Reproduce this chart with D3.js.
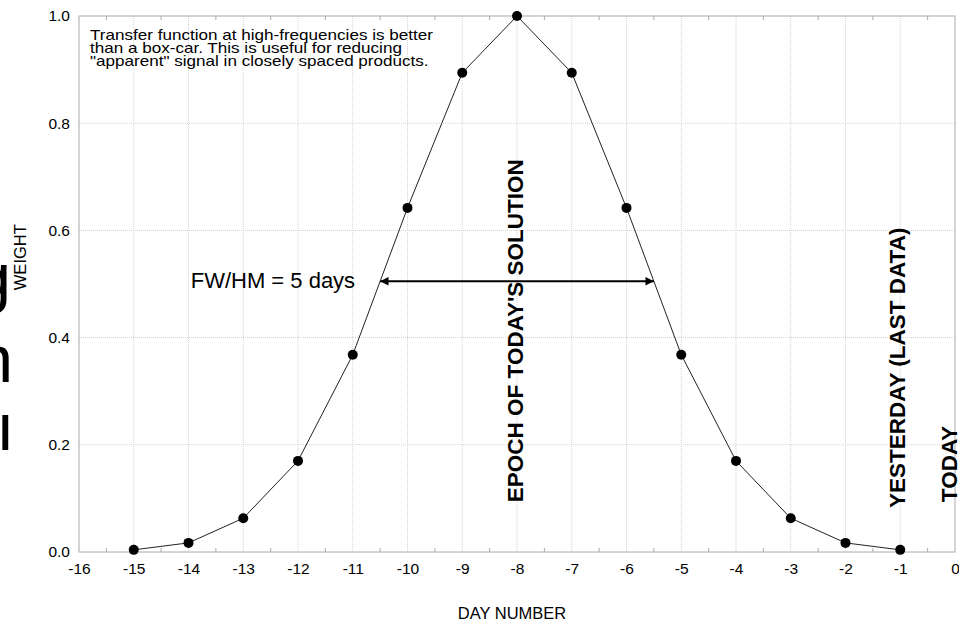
<!DOCTYPE html>
<html>

<head>
  <meta charset="utf-8">
  <script src="https://d3js.org/d3.v7.min.js"></script>
  <style>
    body {
      margin: 0;
      background: #fff;
    }

    text {
      font-family: "Liberation Sans", Arial, Helvetica, sans-serif;
      fill: #000;
    }
  </style>
</head>

<body>
  <svg id="chart"></svg>
</body>

<script>
  // day offsets and the weight given to each day
  const days = [-15, -14, -13, -12, -11, -10, -9, -8, -7, -6, -5, -4, -3, -2, -1]
  const weights = [0.004, 0.017, 0.063, 0.17, 0.368, 0.642, 0.894, 1.0, 0.894, 0.642, 0.368, 0.17, 0.063, 0.017, 0.004]

  const xTicks = d3.range(-16, 1)
  const yTicks = [0, 0.2, 0.4, 0.6, 0.8, 1.0]
  const fwhmEnds = [-10.5, -5.5]
  const fwhmLevel = 0.505

  const noteLines = [
    "Transfer function at high-frequencies is better",
    "than a box-car. This is useful for reducing",
    "\"apparent\" signal in closely spaced products."
  ]

  const W = 959, H = 621
  const margin = { top: 16, right: 4, bottom: 69, left: 79 }
  const width = W - margin.left - margin.right
  const height = H - margin.top - margin.bottom

  const root = d3.select("#chart").attr("width", W).attr("height", H)

  // cut-off big letters hanging in from the left edge
  const stray = [["g", 300, 11], ["n", 382, 13], ["\u0131", 450, 14.5], [",", 497, 4]]
  root.selectAll(".stray").data(stray).enter().append("text")
    .attr("x", d => d[2])
    .attr("y", d => d[1])
    .attr("text-anchor", "end")
    .style("font-size", "67px")
    .text(d => d[0])

  const svg = root.append("g")
    .attr("transform", `translate(${margin.left}, ${margin.top})`)

  const x = d3.scaleLinear().domain([-16, 0]).range([0, width])
  const y = d3.scaleLinear().domain([0, 1]).range([height, 0])

  // dotted grid
  svg.append("g").selectAll("line").data(xTicks.slice(1, -1)).enter().append("line")
    .attr("x1", d => x(d)).attr("x2", d => x(d))
    .attr("y1", 0).attr("y2", height)
    .style("stroke", "#d2d2d2").style("stroke-dasharray", "1,1")
  svg.append("g").selectAll("line").data(yTicks.slice(1, -1)).enter().append("line")
    .attr("x1", 0).attr("x2", width)
    .attr("y1", d => y(d)).attr("y2", d => y(d))
    .style("stroke", "#d2d2d2").style("stroke-dasharray", "1,1")

  // frame
  svg.append("rect")
    .attr("width", width).attr("height", height)
    .style("fill", "none").style("stroke", "#aaa")

  // small inward ticks at half days, top and bottom
  const halves = d3.range(-15.5, 0, 1)
  svg.append("g").selectAll("line").data(halves).enter().append("line")
    .attr("x1", d => x(d)).attr("x2", d => x(d))
    .attr("y1", height).attr("y2", height - 4)
    .style("stroke", "#aaa")
  svg.append("g").selectAll("line").data(halves).enter().append("line")
    .attr("x1", d => x(d)).attr("x2", d => x(d))
    .attr("y1", 0).attr("y2", 4)
    .style("stroke", "#aaa")

  const xAxis = svg.append("g")
    .attr("transform", `translate(0, ${height})`)
    .call(d3.axisBottom(x).tickValues(xTicks).tickFormat(d => String(d)).tickSize(0).tickPadding(11))
  xAxis.select(".domain").remove()
  xAxis.selectAll("text").style("font-size", "15.5px").style("font-family", null)

  const yAxis = svg.append("g")
    .call(d3.axisLeft(y).tickValues(yTicks).tickFormat(d3.format(".1f")).tickSize(0).tickPadding(9))
  yAxis.select(".domain").remove()
  yAxis.selectAll("text").style("font-size", "15.5px").style("font-family", null)

  svg.append("text")
    .attr("x", x(-8) - 5)
    .attr("y", height + 67)
    .attr("text-anchor", "middle")
    .style("font-size", "16.5px")
    .text("DAY NUMBER")

  svg.append("text")
    .attr("transform", `translate(${26 - margin.left}, ${y(0.55)}) rotate(-90)`)
    .attr("text-anchor", "middle")
    .style("font-size", "16.5px")
    .text("WEIGHT")

  // weighting curve
  const pts = days.map((d, i) => [d, weights[i]])
  svg.append("path")
    .datum(pts)
    .attr("d", d3.line().x(d => x(d[0])).y(d => y(d[1])))
    .style("fill", "none").style("stroke", "#222").style("stroke-width", 1)

  svg.append("g").selectAll("circle").data(pts).enter().append("circle")
    .attr("cx", d => x(d[0]))
    .attr("cy", d => y(d[1]))
    .attr("r", 5)
    .style("fill", "#000")

  // FW/HM arrow
  const defs = root.append("defs")
  defs.append("marker")
    .attr("id", "head")
    .attr("viewBox", "0 0 10 10")
    .attr("refX", 10).attr("refY", 5)
    .attr("markerWidth", 7.5).attr("markerHeight", 4.2)
    .attr("markerUnits", "strokeWidth")
    .attr("orient", "auto-start-reverse")
    .append("path").attr("d", "M0,0 L10,5 L0,10 Z").style("fill", "#000")

  svg.append("line")
    .attr("x1", x(fwhmEnds[0])).attr("x2", x(fwhmEnds[1]))
    .attr("y1", y(fwhmLevel)).attr("y2", y(fwhmLevel))
    .style("stroke", "#000").style("stroke-width", 2)
    .attr("marker-start", "url(#head)")
    .attr("marker-end", "url(#head)")

  svg.append("text")
    .attr("x", x(fwhmEnds[0]) - 25)
    .attr("y", y(fwhmLevel) + 7)
    .attr("text-anchor", "end")
    .style("font-size", "22px")
    .text("FW/HM = 5 days")

  // vertical labels, each with its lower end in weight units
  const vlabels = [
    { day: -8, bottom: 0.093, dx: 6, text: "EPOCH OF TODAY'S SOLUTION" },
    { day: -1, bottom: 0.082, dx: 5, text: "YESTERDAY (LAST DATA)" },
    { day: 0, bottom: 0.093, dx: 2, text: "TODAY" }
  ]
  svg.selectAll(".vlab").data(vlabels).enter().append("text")
    .attr("transform", d => `translate(${x(d.day) + d.dx}, ${y(d.bottom)}) rotate(-90)`)
    .style("font-size", "22.5px")
    .style("font-weight", "bold")
    .text(d => d.text)

  // note in upper left, set a little wide like the original
  svg.append("g")
    .attr("transform", "translate(11, 24) scale(1.22, 1)")
    .append("text")
    .style("font-size", "14px")
    .selectAll("tspan").data(noteLines).enter().append("tspan")
    .attr("x", 0)
    .attr("dy", (d, i) => i == 0 ? 0 : 13)
    .text(d => d)
</script>

</html>
